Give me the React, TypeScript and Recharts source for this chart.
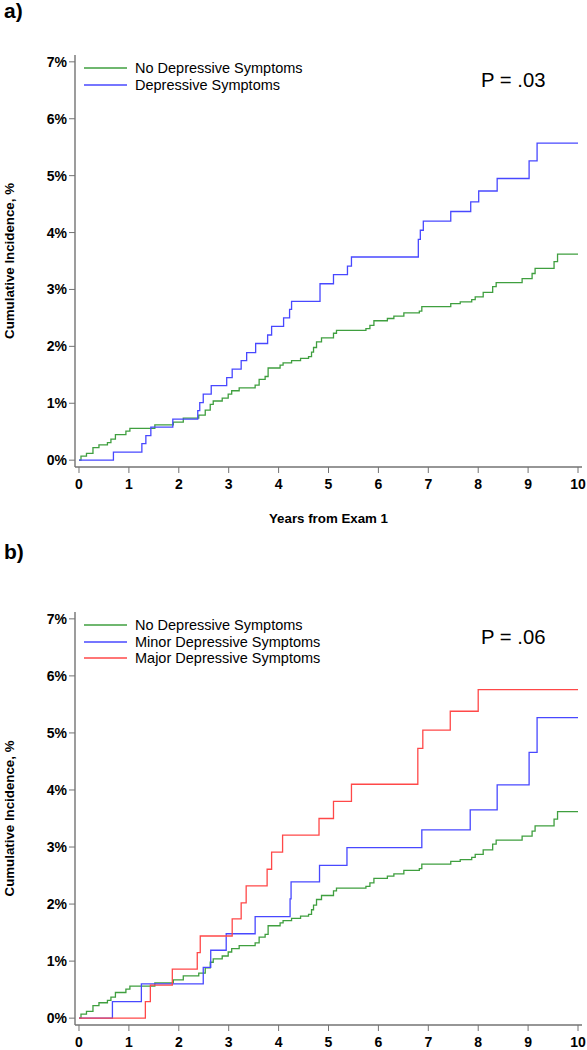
import { LineChart, Line, XAxis, YAxis, Legend } from 'recharts';

const FONT = '"Liberation Sans", Arial, Helvetica, sans-serif';
const AXIS = '#737373';

const xTicks = [0, 1, 2, 3, 4, 5, 6, 7, 8, 9, 10];
const yTicks = [0, 1, 2, 3, 4, 5, 6, 7];

// no depressive symptoms (same curve in both panels)
const noDepTimes = [
  0, 0.04, 0.15, 0.28, 0.4, 0.57, 0.64, 0.73, 0.94, 1.02, 1.52, 1.89, 2.09, 2.4, 2.53, 2.63, 2.69, 2.87, 2.99,
  3.06, 3.21, 3.53, 3.61, 3.73, 3.79, 4.03, 4.09, 4.26, 4.44, 4.6, 4.66, 4.7, 4.76, 4.86, 5.1, 5.16, 5.75, 5.83,
  5.91, 6.18, 6.31, 6.51, 6.82, 6.87, 7.45, 7.64, 7.87, 7.94, 8.1, 8.29, 8.36, 8.88, 9.08, 9.14, 9.52, 9.59, 10,
];
const noDepValues = [
  0, 0.07, 0.12, 0.22, 0.27, 0.31, 0.37, 0.45, 0.51, 0.56, 0.62, 0.67, 0.74, 0.79, 0.88, 0.98, 1.04, 1.09, 1.16,
  1.22, 1.27, 1.32, 1.42, 1.47, 1.62, 1.67, 1.71, 1.75, 1.79, 1.82, 1.9, 1.98, 2.08, 2.15, 2.23, 2.28, 2.31, 2.37,
  2.45, 2.49, 2.53, 2.59, 2.62, 2.7, 2.75, 2.78, 2.82, 2.87, 2.95, 3.05, 3.12, 3.19, 3.28, 3.37, 3.49, 3.62, 3.62,
];

// panel a: any depressive symptoms
const depTimes = [
  0, 0.69, 1.26, 1.34, 1.44, 1.88, 2.38, 2.42, 2.49, 2.65, 2.96, 3.07, 3.25, 3.36, 3.54, 3.78, 3.86, 4.1, 4.22,
  4.26, 4.83, 5.1, 5.38, 5.46, 6.8, 6.84, 6.9, 7.45, 7.85, 8.01, 8.38, 9.02, 9.18, 10,
];
const depValues = [
  0, 0.14, 0.29, 0.43, 0.58, 0.72, 0.87, 1.01, 1.16, 1.31, 1.45, 1.6, 1.75, 1.89, 2.05, 2.2, 2.35, 2.5, 2.65,
  2.79, 3.1, 3.26, 3.41, 3.57, 3.88, 4.04, 4.2, 4.37, 4.54, 4.73, 4.95, 5.26, 5.57, 5.57,
];

// panel b: minor / major
const minorTimes = [0, 0.67, 1.25, 2.49, 2.64, 2.95, 3.53, 4.23, 4.25, 4.82, 5.37, 6.87, 7.84, 8.38, 9.02, 9.18, 10];
const minorValues = [0, 0.29, 0.6, 0.89, 1.19, 1.48, 1.78, 2.09, 2.39, 2.68, 2.99, 3.3, 3.65, 4.09, 4.66, 5.27, 5.27];

const majorTimes = [
  0, 1.33, 1.43, 1.87, 2.37, 2.43, 3.07, 3.25, 3.35, 3.77, 3.86, 4.08, 4.81, 5.1, 5.46, 6.79, 6.89, 7.44, 8.0, 10,
];
const majorValues = [
  0, 0.29, 0.58, 0.86, 1.15, 1.44, 1.74, 2.02, 2.32, 2.61, 2.91, 3.21, 3.5, 3.8, 4.1, 4.73, 5.05, 5.38, 5.76, 5.76,
];

const toSteps = (times: number[], values: number[]) => times.map((t, i) => ({ t, v: values[i] }));

type Series = { name: string; color: string; data: { t: number; v: number }[] };

const panelA: Series[] = [
  { name: 'No Depressive Symptoms', color: '#3f9f3f', data: toSteps(noDepTimes, noDepValues) },
  { name: 'Depressive Symptoms', color: '#4848ff', data: toSteps(depTimes, depValues) },
];
const panelB: Series[] = [
  { name: 'No Depressive Symptoms', color: '#3f9f3f', data: toSteps(noDepTimes, noDepValues) },
  { name: 'Minor Depressive Symptoms', color: '#4848ff', data: toSteps(minorTimes, minorValues) },
  { name: 'Major Depressive Symptoms', color: '#ff4848', data: toSteps(majorTimes, majorValues) },
];

// legend keeps the series order (recharts sorts payload by name otherwise)
const makeLegend = (series: Series[]) => () => (
  <div style={{ fontFamily: FONT, fontSize: 14.5, color: '#000' }}>
    {series.map((s) => (
      <div key={s.name} style={{ display: 'flex', alignItems: 'center', height: 16.5 }}>
        <svg width={43} height={2} style={{ display: 'block' }}>
          <line x1={0} x2={43} y1={1} y2={1} stroke={s.color} strokeWidth={1.3} />
        </svg>
        <span style={{ marginLeft: 8, lineHeight: '16.5px', whiteSpace: 'nowrap' }}>{s.name}</span>
      </div>
    ))}
  </div>
);

function Panel({ series, height, xLabel }: { series: Series[]; height: number; xLabel?: string }) {
  const tickStyle = { fontSize: 14, fontWeight: 'bold', fill: '#000', fontFamily: FONT };
  const labelStyle = { fontSize: 13.3, fontWeight: 'bold', fill: '#000', fontFamily: FONT };
  return (
    <LineChart width={587} height={height} margin={{ top: 55, right: 5, left: 0, bottom: xLabel ? 3 : 0 }}>
      <XAxis
        dataKey="t"
        type="number"
        domain={[-0.08, 10.08]}
        ticks={xTicks}
        allowDataOverflow
        height={xLabel ? 60 : 25}
        tick={tickStyle}
        tickSize={6}
        tickMargin={6}
        stroke={AXIS}
        axisLine={{ stroke: AXIS, strokeWidth: 1.4 }}
        label={xLabel ? { value: xLabel, position: 'insideBottom', offset: 4, style: labelStyle } : undefined}
      />
      <XAxis
        xAxisId="top"
        orientation="top"
        type="number"
        domain={[-0.08, 10.08]}
        height={0}
        tick={false}
        tickLine={false}
        axisLine={{ stroke: AXIS, strokeWidth: 1.4 }}
      />
      <YAxis
        type="number"
        domain={[-0.12, 7.12]}
        ticks={yTicks}
        allowDataOverflow
        width={75}
        tick={tickStyle}
        tickFormatter={(v: number) => `${v}%`}
        tickSize={6}
        tickMargin={2}
        stroke={AXIS}
        axisLine={{ stroke: AXIS, strokeWidth: 1.4 }}
        label={{
          value: 'Cumulative Incidence, %',
          angle: -90,
          position: 'insideLeft',
          offset: 9,
          style: { ...labelStyle, textAnchor: 'middle' },
        }}
      />
      <YAxis
        yAxisId="right"
        orientation="right"
        width={0}
        tick={false}
        tickLine={false}
        axisLine={{ stroke: AXIS, strokeWidth: 1.4 }}
      />
      <Legend
        layout="vertical"
        align="center"
        verticalAlign="middle"
        wrapperStyle={{ top: 60, left: 84, width: 'auto' }}
        content={makeLegend(series)}
      />
      {series.map((s) => (
        <Line
          key={s.name}
          name={s.name}
          data={s.data}
          dataKey="v"
          type="stepAfter"
          stroke={s.color}
          strokeWidth={1.3}
          dot={false}
          activeDot={false}
          isAnimationActive={false}
        />
      ))}
    </LineChart>
  );
}

const panelTitle: React.CSSProperties = {
  position: 'absolute',
  left: 4,
  fontFamily: FONT,
  fontSize: 21,
  fontWeight: 'bold',
  lineHeight: '22px',
};
const pText: React.CSSProperties = {
  position: 'absolute',
  left: 481,
  fontFamily: FONT,
  fontSize: 20.3,
  lineHeight: '20px',
};

export default function App() {
  return (
    <div style={{ position: 'absolute', top: 0, left: 0, width: 587, height: 1050, background: '#fff', overflow: 'hidden' }}>
      <div style={{ position: 'absolute', top: 0, left: 0 }}>
        <Panel series={panelA} height={530} xLabel="Years from Exam 1" />
      </div>
      <div style={{ position: 'absolute', top: 557, left: 0 }}>
        <Panel series={panelB} height={493} />
      </div>
      <div style={{ ...panelTitle, top: 0 }}>a)</div>
      <div style={{ ...panelTitle, top: 541 }}>b)</div>
      <div style={{ ...pText, top: 70 }}>P = .03</div>
      <div style={{ ...pText, top: 627 }}>P = .06</div>
    </div>
  );
}
